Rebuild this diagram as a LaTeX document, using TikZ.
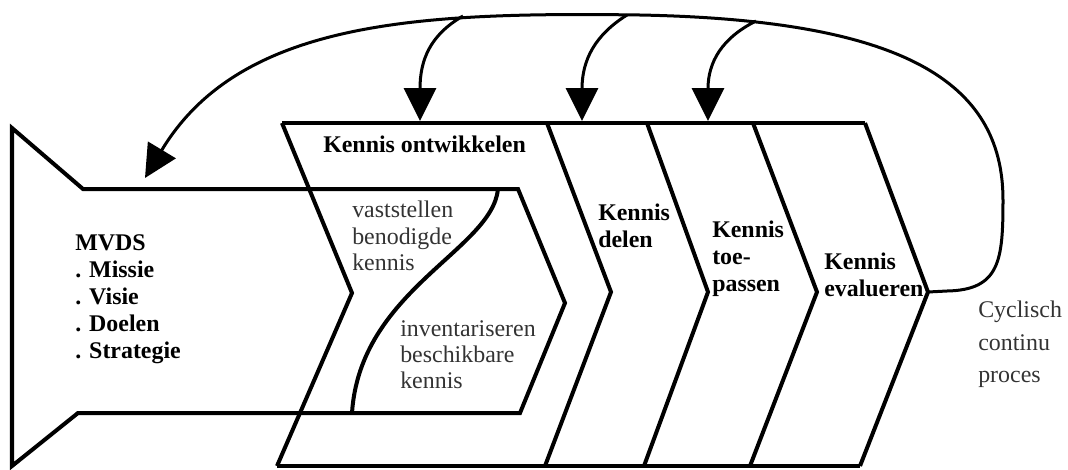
\documentclass[tikz,border=0pt]{standalone}
\usepackage{fontspec}
\setmainfont{Liberation Serif}
\usetikzlibrary{arrows.meta}
\begin{document}
\begin{tikzpicture}[x=0.025cm,y=-0.025cm,
shapeline/.style={line width=0.1cm},
loopline/.style={line width=0.075cm},
bigarrow/.style={loopline,-{Triangle[length=0.82cm,width=0.8cm]}},
boldtext/.style={anchor=north west,inner sep=0pt,align=left,font=\fontsize{17}{19.2}\selectfont\bfseries},
plaintext/.style={anchor=north west,inner sep=0pt,align=left,text=black!80,font=\fontsize{17}{18.8}\selectfont}]
\useasboundingbox (0,0) rectangle (1068,469);
\draw[shapeline] (12,128) -- (83,189) -- (518,189) -- (565,303) -- (520,413) -- (78,413) -- (12,466) -- cycle;
\draw[shapeline] (498,189) .. controls (492,250) and (360,290) .. (352,413);
\draw[shapeline] (282,123) -- (865,123);
\draw[shapeline] (277,466) -- (860,466);
\draw[shapeline] (282,123) -- (352,293) -- (277,466);
\draw[shapeline] (547,123) -- (611,292) -- (545,466);
\draw[shapeline] (647,123) -- (708,292) -- (644,466);
\draw[shapeline] (753,123) -- (817,292) -- (750,466);
\draw[shapeline] (865,123) -- (928,292) -- (860,466);
\coordinate (looptip) at (928,292);
\coordinate (mvdstop) at (145,178);
\coordinate (s1) at (463,16);
\coordinate (s2) at (627,15);
\coordinate (s3) at (756,21);
\coordinate (t1) at (420,121);
\coordinate (t2) at (582,121);
\coordinate (t3) at (708,121);
\draw[bigarrow] (looptip) -- (947,291) .. controls (1000,290) and (1003,260) .. (1003,200) .. controls (1003,80) and (900,20) .. (640,15) .. controls (420,12) and (240,20) .. (mvdstop);
\draw[bigarrow] (s1) .. controls (430,35) and (420,60) .. (t1);
\draw[bigarrow] (s2) .. controls (595,35) and (582,60) .. (t2);
\draw[bigarrow] (s3) .. controls (722,38) and (708,62) .. (t3);
\node[boldtext] (mvds) at (75,234) {MVDS\\. Missie\\. Visie\\. Doelen\\. Strategie};
\node[boldtext] (ontwikkelen) at (323,136) {Kennis ontwikkelen};
\node[plaintext] (vaststellen) at (352,201) {vaststellen\\benodigde\\kennis};
\node[plaintext] (inventariseren) at (400,320) {inventariseren\\beschikbare\\kennis};
\node[boldtext] (delen) at (598,204) {Kennis\\delen};
\node[boldtext] (toepassen) at (712,221) {Kennis\\toe-\\passen};
\node[boldtext] (evalueren) at (824,253) {Kennis\\evalueren};
\node[plaintext,font=\fontsize{17}{23}\selectfont] (cyclisch) at (978,301) {Cyclisch\\continu\\proces};
\end{tikzpicture}
\end{document}
